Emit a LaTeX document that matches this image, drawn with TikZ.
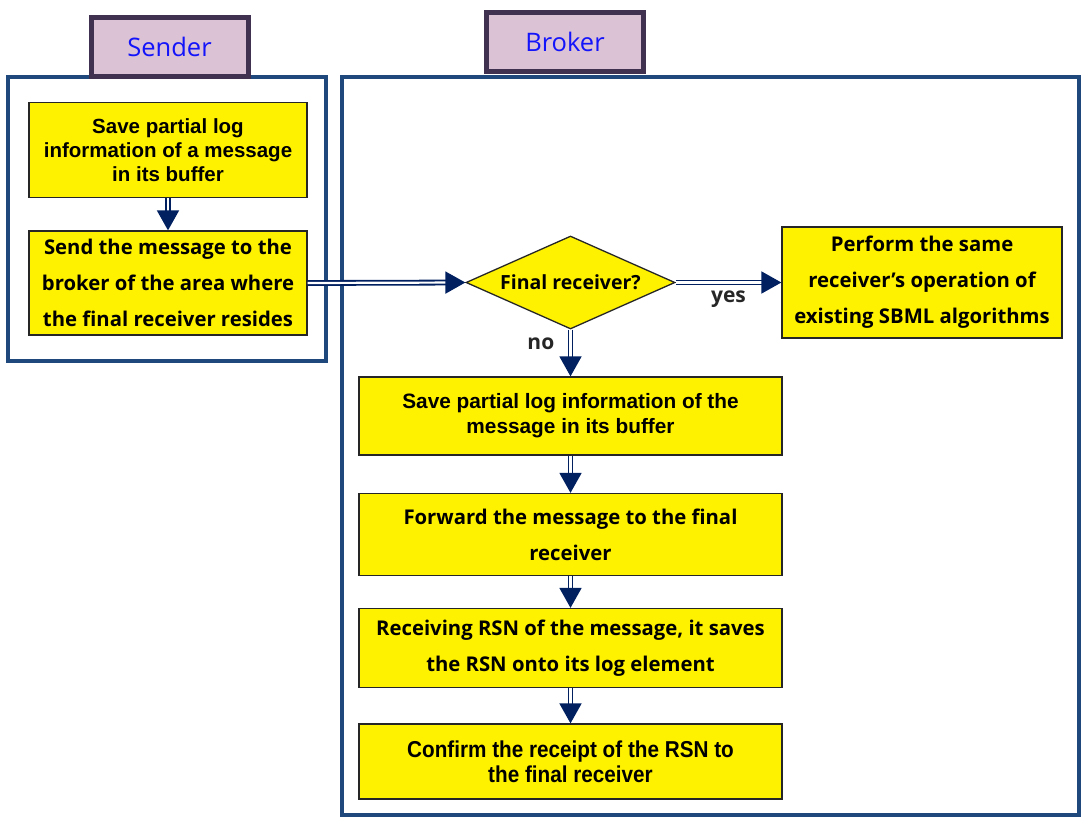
\documentclass[tikz,border=0pt]{standalone}
\usepackage{fontspec}
\setmainfont{Liberation Sans}
\newfontfamily\mg{Open Sans}
\newfontfamily\narrowsans[FakeStretch=0.9]{Liberation Sans}
\usetikzlibrary{shapes.geometric,arrows.meta}
\definecolor{navy}{RGB}{0,32,96}
\definecolor{frameblue}{RGB}{31,73,125}
\definecolor{tagborder}{RGB}{64,49,81}
\definecolor{tagfill}{RGB}{220,194,213}
\definecolor{tagtext}{RGB}{20,20,250}
\tikzset{
  frame/.style={draw=frameblue, line width=3.5pt},
  tag/.style={draw=tagborder, fill=tagfill, line width=5pt, minimum width=157pt, minimum height=59pt,
    text=tagtext, font=\mg\fontsize{25.5pt}{28pt}\selectfont},
  ybox/.style={draw=black!85, fill=yellow, line width=1.3pt, inner sep=0pt, align=center},
  arial/.style={font=\bfseries\fontsize{20.5pt}{24pt}\selectfont},
  malgun/.style={font=\mg\bfseries\fontsize{20.3pt}{36pt}\selectfont},
  decision/.style={diamond, aspect=2.25, draw=black!85, fill=yellow, line width=1.3pt, inner sep=0pt,
    minimum width=209pt, minimum height=93pt},
  flow/.style={draw=navy, double=white, double distance=2.2pt, line width=1.8pt,
    -{Triangle[length=20pt,width=22pt]}},
  lbl/.style={font=\mg\bfseries\fontsize{21pt}{24pt}\selectfont, text=black!85}
}
\begin{document}
\begin{tikzpicture}[x=1pt,y=-1pt]
\useasboundingbox (0,0) rectangle (1081,819);

% lane frames
\draw[frame] (8,77) rectangle (326,361);
\draw[frame] (342,77) rectangle (1079,815);

% lane titles
\node[tag] (sender) at (169.5,47) {Sender};
\node[tag] (broker) at (565,42) {Broker};

% sender steps
\node[ybox, arial, minimum width=278pt, minimum height=95pt] (s1) at (168,150)
  {Save partial log\\information of a message\\in its buffer};
\node[ybox, malgun, minimum width=278pt, minimum height=104pt] (s2) at (168,283)
  {Send the message to the\\broker of the area where\\the final receiver resides};

% broker steps
\node[decision, font=\mg\bfseries\fontsize{19.5pt}{22pt}\selectfont] (dec) at (570.5,282.5) {Final receiver?};
\node[ybox, malgun, minimum width=280pt, minimum height=111pt] (same) at (922,282.5)
  {Perform the same\\receiver’s operation of\\existing SBML algorithms};
\node[ybox, font=\bfseries\fontsize{20.8pt}{25pt}\selectfont, minimum width=423pt, minimum height=78pt] (b1) at (570.5,416)
  {Save partial log information of the\\message in its buffer};
\node[ybox, malgun, minimum width=423pt, minimum height=82pt] (b2) at (570.5,534.5)
  {Forward the message to the final\\receiver};
\node[ybox, malgun, minimum width=423pt, minimum height=79pt] (b3) at (570.5,648)
  {Receiving RSN of the message, it saves\\the RSN onto its log element};
\node[ybox, font=\narrowsans\bfseries\fontsize{23pt}{25pt}\selectfont, minimum width=423pt, minimum height=75pt] (b4) at (570.5,761.5)
  {Confirm the receipt of the RSN to\\the final receiver};

% connectors
\draw[flow] (s1) -- (s2);
\draw[flow] (s2.east) -- (dec.west);
\draw[flow] (dec.east) -- (same.west) node[lbl, pos=0.5, below=4pt] (yes) {yes};
\draw[flow] (dec.south) -- (b1.north) node[lbl, pos=0.3, left=12pt] (no) {no};
\draw[flow] (b1) -- (b2);
\draw[flow] (b2) -- (b3);
\draw[flow] (b3) -- (b4);
\end{tikzpicture}
\end{document}
